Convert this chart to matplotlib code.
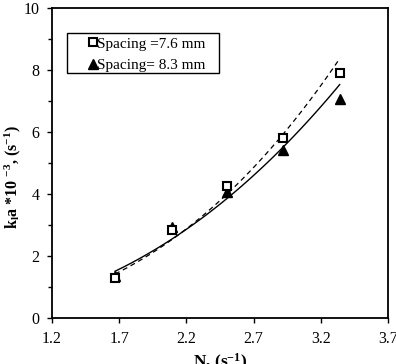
import numpy as np
import matplotlib
matplotlib.use("Agg")
import matplotlib.pyplot as plt
from matplotlib.ticker import MultipleLocator
from matplotlib.patches import Rectangle

plt.rcParams['font.family'] = ['Liberation Serif', 'DejaVu Serif']
plt.rcParams['mathtext.fontset'] = 'custom'
plt.rcParams['mathtext.rm'] = 'Liberation Serif'
plt.rcParams['mathtext.bf'] = 'Liberation Serif:bold'
plt.rcParams['mathtext.it'] = 'Liberation Serif:italic'

x_sq = [1.67, 2.09, 2.50, 2.92, 3.34]
y_sq = [1.28, 2.85, 4.25, 5.80, 7.88]
x_tri = [1.67, 2.09, 2.50, 2.92, 3.34]
y_tri = [1.35, 2.92, 4.05, 5.42, 7.07]
labels = ['Spacing =7.6 mm', 'Spacing= 8.3 mm']

fig = plt.figure(figsize=(3.96, 3.64), dpi=100)
ax = fig.add_axes([0.131, 0.126, 0.849, 0.853])

def power_fit(x, y):
    b, lna = np.polyfit(np.log(x), np.log(y), 1)
    return np.exp(lna), b

xs = np.linspace(min(x_sq), max(x_sq), 100)
a1, b1 = power_fit(np.array(x_sq), np.array(y_sq))
a2, b2 = power_fit(np.array(x_tri), np.array(y_tri))
ax.plot(xs, a1 * xs ** b1, color='black', lw=0.9, ls=(0, (4, 3)))
ax.plot(xs, a2 * xs ** b2, color='black', lw=1.0, ls='-')

ax.plot(x_sq, y_sq, ls='none', marker='s', ms=5.5, mfc='white', mec='black', mew=1.5,
        label=labels[0], zorder=3)
ax.plot(x_tri, y_tri, ls='none', marker='^', ms=6.5, mfc='black', mec='black',
        label=labels[1], zorder=2)

ax.set_xlim(1.2, 3.7)
ax.set_ylim(0, 10)
ax.set_xticks([1.2, 1.7, 2.2, 2.7, 3.2, 3.7])
ax.set_xticklabels(['1.2', '1.7', '2.2', '2.7', '3.2', '3.7'])
ax.yaxis.set_major_locator(MultipleLocator(2))
ax.yaxis.set_minor_locator(MultipleLocator(1))
ax.tick_params(axis='both', which='major', direction='out', length=3.5, width=1,
               labelsize=11.5, pad=5.5)
ax.tick_params(axis='y', which='minor', direction='out', length=3, width=1)
for s in ax.spines.values():
    s.set_linewidth(1.3)

ax.set_xlabel(r'N, (s$^{\mathbf{-1}}$)', fontsize=12.5, fontweight='bold', labelpad=4)
ax.set_ylabel(r'k$_{\mathbf{l}}$a *10 $^{\mathbf{-3}}$, (s$^{\mathbf{-1}}$)',
              fontsize=11.5, fontweight='bold')
ax.yaxis.set_label_coords(-0.085, 0.455)

# legend frame box
ax.add_patch(Rectangle((0.0446, 0.790), 0.4524, 0.129, transform=ax.transAxes,
                       fill=False, edgecolor='black', lw=1.0, zorder=4))
leg = ax.legend(loc='upper left', bbox_to_anchor=(0.112, 0.906), frameon=False,
                fontsize=11, handlelength=0.45, handletextpad=0.05, borderpad=0,
                borderaxespad=0, labelspacing=0.5)

fig.savefig('out.png', dpi=100)
